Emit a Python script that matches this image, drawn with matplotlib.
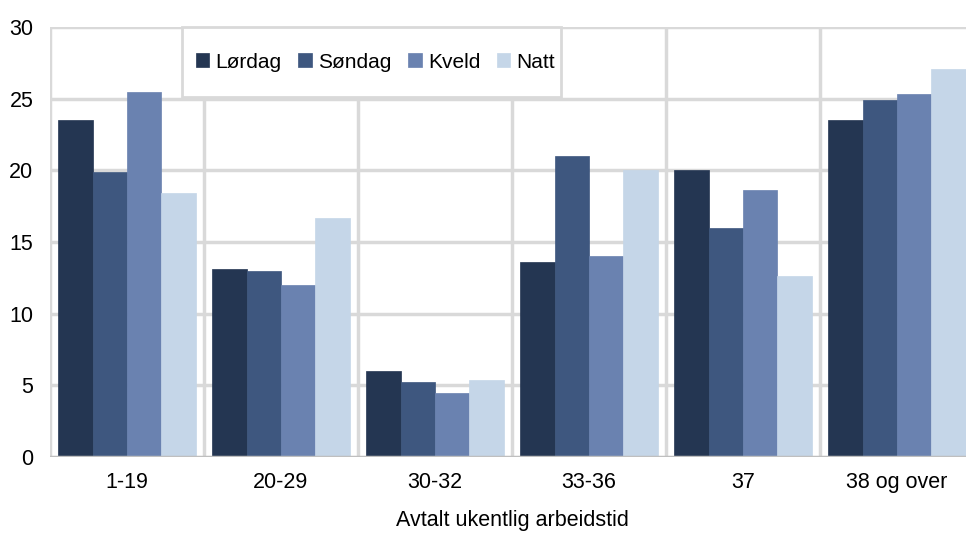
import matplotlib
matplotlib.use("Agg")
import matplotlib.pyplot as plt
from matplotlib.patches import Rectangle
import numpy as np

plt.rcParams['font.family'] = ['Liberation Sans', 'DejaVu Sans']

categories = ["1-19", "20-29", "30-32", "33-36", "37", "38 og over"]
series = ["Lørdag", "Søndag", "Kveld", "Natt"]
lordag = [23.5, 13.1, 6.0, 13.6, 20.0, 23.5]
sondag = [19.9, 13.0, 5.2, 21.0, 16.0, 24.9]
kveld = [25.5, 12.0, 4.5, 14.0, 18.6, 25.3]
natt = [18.4, 16.7, 5.4, 20.0, 12.6, 27.1]
values = [lordag, sondag, kveld, natt]
colors = ["#243652", "#3e577f", "#6a82b0", "#c5d6e8"]
xlabel = "Avtalt ukentlig arbeidstid"
yticks = [0, 5, 10, 15, 20, 25, 30]

W, H = 966, 533
fig = plt.figure(figsize=(W / 100, H / 100), dpi=100)
ax = fig.add_axes([50 / W, 76 / H, 924 / W, 430 / H])

x = np.arange(len(categories))
bw = 0.223
for i, (name, vals, c) in enumerate(zip(series, values, colors)):
    ax.bar(x + (i - 1.5) * bw, vals, width=bw, color=c, label=name,
           edgecolor=c, linewidth=0.5, zorder=3)

FS = 15.5
ax.set_xlim(-0.5, len(categories) - 0.5)
ax.set_ylim(0, 30)
ax.set_yticks(yticks)
ax.set_yticklabels([str(t) for t in yticks], fontsize=FS)
ax.set_xticks(x)
ax.set_xticklabels(categories, fontsize=FS)
ax.tick_params(axis='both', length=0)
ax.tick_params(axis='x', pad=11)
ax.tick_params(axis='y', pad=12)

# grid: horizontal lines at y ticks, vertical lines at category boundaries
for t in yticks[1:]:
    ax.axhline(t, color="#d9d9d9", lw=2.5, zorder=1)
for b in np.arange(-0.5, len(categories) + 0.5, 1.0):
    ax.axvline(b, color="#d9d9d9", lw=2.5, zorder=1)

for s in ax.spines.values():
    s.set_visible(False)
ax.axhline(0, color="#bfbfbf", lw=2.5, zorder=4)

ax.set_xlabel(xlabel, fontsize=FS, labelpad=12)

lx0 = (182 - 50) / 924
lw_ = (561 - 182) / 924
lh = 70 / 430
box = Rectangle((lx0, 1 - lh), lw_, lh, transform=ax.transAxes,
                facecolor="white", edgecolor="#d9d9d9", lw=2, zorder=5,
                clip_on=False)
ax.add_patch(box)
lx_shift = 4 / 924
leg = ax.legend(loc="center", bbox_to_anchor=(lx0 + lx_shift, 1 - lh, lw_, lh),
                ncol=4, frameon=False, fontsize=15,
                handlelength=0.65, handleheight=0.65, handletextpad=0.3,
                columnspacing=0.8, borderaxespad=0, borderpad=0.4)
leg.set_zorder(6)

fig.savefig("out.png", dpi=100)
